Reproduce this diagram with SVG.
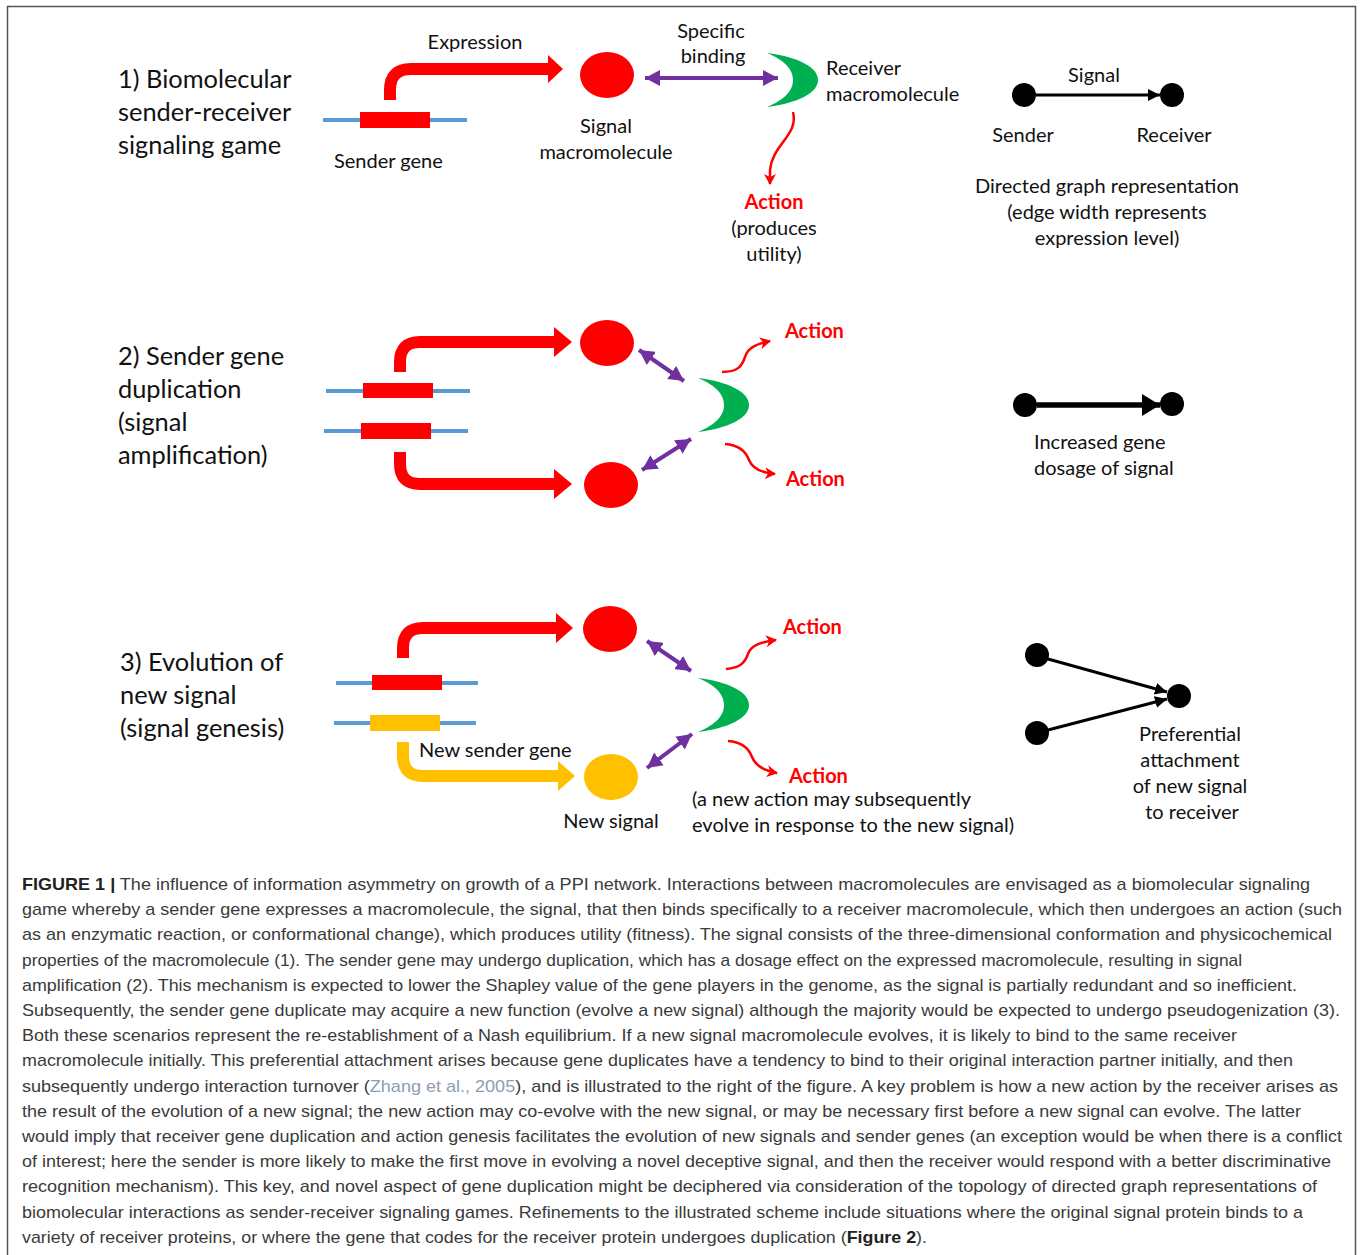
<svg xmlns="http://www.w3.org/2000/svg" width="1360" height="1255" viewBox="0 0 1360 1255">
<defs>
<style>
.lbl{font-family:Lato,"Open Sans","DejaVu Sans",sans-serif;font-size:20px;fill:#111}
.ttl{font-family:Lato,"Open Sans","DejaVu Sans",sans-serif;font-size:25.4px;fill:#111}
.act{font-family:Lato,"Open Sans","DejaVu Sans",sans-serif;font-size:20px;font-weight:bold;fill:#FF0000}
.cap{font-family:"Liberation Sans",Arial,sans-serif;font-size:17px;fill:#3a3a3a}
.b{font-weight:bold;fill:#222}
.ref{fill:#8d9db3}
.gene{stroke:#5B9BD5;stroke-width:4}
.red{fill:#FF0000}
.yel{fill:#FFC000}
.grn{fill:#00B050}
.exp{fill:none;stroke:#FF0000;stroke-width:12}
.expy{fill:none;stroke:#FFC000;stroke-width:12}
.bind{fill:none;stroke:#7030A0;stroke-width:4;marker-start:url(#pu);marker-end:url(#pu)}
.wave{fill:none;stroke:#FF0000;stroke-width:2.5;marker-end:url(#rh)}
.edge{fill:none;stroke:#000;stroke-width:3}
.edge.thick{stroke-width:5.5}
</style>
<marker id="pu" markerUnits="userSpaceOnUse" markerWidth="16" markerHeight="16" refX="15" refY="8" orient="auto-start-reverse"><path d="M0,0 L15,8 L0,16 z" fill="#7030A0"/></marker>
<marker id="rh" markerUnits="userSpaceOnUse" markerWidth="12" markerHeight="12" refX="10" refY="6" orient="auto"><path d="M0,0 L11,6 L0,12 L3,6 z" fill="#FF0000"/></marker>
<marker id="bk" markerUnits="userSpaceOnUse" markerWidth="14" markerHeight="14" refX="12" refY="6" orient="auto"><path d="M0,0 L12,6 L0,12 z" fill="#000"/></marker>
<marker id="bk2" markerUnits="userSpaceOnUse" markerWidth="20" markerHeight="24" refX="18" refY="11" orient="auto"><path d="M0,0 L18,11 L0,22 z" fill="#000"/></marker>
<path id="cres" d="M0,0 C31,4 51,14 51,27 C51,40 31,50 0,54 C19,46 26,37 26,27 C26,17 19,8 0,0 Z"/>
</defs>
<rect width="1360" height="1255" fill="#fff"/>
<path d="M7.5,1260 V6.5 H1355.5 V1260" fill="none" stroke="#555" stroke-width="1.5"/>

<!-- Panel 1 -->
<g id="title1"><text class="ttl" x="118" y="88">1) Biomolecular</text><text class="ttl" x="118" y="121">sender-receiver</text><text class="ttl" x="118" y="154">signaling game</text></g>
<g id="sender-gene-1"><line class="gene" x1="323" y1="120" x2="467" y2="120"/><rect class="red" x="360" y="112" width="70" height="16"/><text class="lbl" x="334" y="168">Sender gene</text></g>
<g id="signal-1"><ellipse class="red" cx="607" cy="75" rx="27" ry="23"/><text class="lbl" x="606" y="133" text-anchor="middle">Signal</text><text class="lbl" x="606" y="159" text-anchor="middle">macromolecule</text></g>
<g id="receiver-1"><use href="#cres" class="grn" transform="translate(767,53)"/><text class="lbl" x="826" y="75">Receiver</text><text class="lbl" x="826" y="101">macromolecule</text></g>
<g id="action-1"><text class="act" x="774" y="209" text-anchor="middle">Action</text><text class="lbl" x="774" y="235" text-anchor="middle">(produces</text><text class="lbl" x="774" y="261" text-anchor="middle">utility)</text></g>
<g id="labels-1"><text class="lbl" x="475" y="49" text-anchor="middle">Expression</text><text class="lbl" x="711" y="38" text-anchor="middle">Specific</text><text class="lbl" x="713" y="63" text-anchor="middle">binding</text></g>
<g id="graph-1"><circle cx="1024" cy="95" r="12"/><circle cx="1172" cy="95" r="12"/><text class="lbl" x="1094" y="82" text-anchor="middle">Signal</text><text class="lbl" x="1023" y="142" text-anchor="middle">Sender</text><text class="lbl" x="1174" y="142" text-anchor="middle">Receiver</text><text class="lbl" x="1107" y="193" text-anchor="middle">Directed graph representation</text><text class="lbl" x="1107" y="219" text-anchor="middle">(edge width represents</text><text class="lbl" x="1107" y="245" text-anchor="middle">expression level)</text></g>

<!-- Panel 2 -->
<g id="title2"><text class="ttl" x="118" y="365">2) Sender gene</text><text class="ttl" x="118" y="398">duplication</text><text class="ttl" x="118" y="431">(signal</text><text class="ttl" x="118" y="464">amplification)</text></g>
<g id="sender-gene-2a"><line class="gene" x1="326" y1="391" x2="470" y2="391"/><rect class="red" x="363" y="383" width="70" height="15"/></g>
<g id="sender-gene-2b"><line class="gene" x1="324" y1="431" x2="468" y2="431"/><rect class="red" x="361" y="423" width="70" height="16"/></g>
<g id="signal-2a"><ellipse class="red" cx="607" cy="343" rx="27" ry="23"/></g>
<g id="signal-2b"><ellipse class="red" cx="611" cy="485" rx="27" ry="23"/></g>
<g id="receiver-2"><use href="#cres" class="grn" transform="translate(698,378)"/></g>
<g id="action-2a"><text class="act" x="785" y="338">Action</text></g>
<g id="action-2b"><text class="act" x="786" y="486">Action</text></g>
<g id="graph-2"><circle cx="1025" cy="405" r="12"/><circle cx="1172" cy="404" r="12"/><text class="lbl" x="1034" y="449">Increased gene</text><text class="lbl" x="1034" y="475">dosage of signal</text></g>

<!-- Panel 3 -->
<g id="title3"><text class="ttl" x="120" y="671">3) Evolution of</text><text class="ttl" x="120" y="704">new signal</text><text class="ttl" x="120" y="737">(signal genesis)</text></g>
<g id="sender-gene-3"><line class="gene" x1="336" y1="683" x2="478" y2="683"/><rect class="red" x="372" y="675" width="70" height="15"/></g>
<g id="new-sender-gene"><line class="gene" x1="334" y1="723" x2="476" y2="723"/><rect class="yel" x="370" y="715" width="70" height="16"/><text class="lbl" x="419" y="757">New sender gene</text></g>
<g id="signal-3"><ellipse class="red" cx="610" cy="629" rx="27" ry="23"/></g>
<g id="new-signal"><ellipse class="yel" cx="611" cy="777" rx="27" ry="23"/><text class="lbl" x="611" y="828" text-anchor="middle">New signal</text></g>
<g id="receiver-3"><use href="#cres" class="grn" transform="translate(698,678)"/></g>
<g id="action-3a"><text class="act" x="783" y="634">Action</text></g>
<g id="action-3b"><text class="act" x="789" y="783">Action</text><text class="lbl" x="692" y="806">(a new action may subsequently</text><text class="lbl" x="692" y="832">evolve in response to the new signal)</text></g>
<g id="graph-3"><circle cx="1037" cy="655" r="12"/><circle cx="1037" cy="733" r="12"/><circle cx="1179" cy="696" r="12"/><text class="lbl" x="1190" y="741" text-anchor="middle">Preferential</text><text class="lbl" x="1190" y="767" text-anchor="middle">attachment</text><text class="lbl" x="1190" y="793" text-anchor="middle">of new signal</text><text class="lbl" x="1192" y="819" text-anchor="middle">to receiver</text></g>

<!-- Connectors -->
<g id="connectors">
<path class="exp" d="M390,100 V90 Q390,69 411,69 H550"/><polygon class="red" points="548,55 563,69 548,83"/>
<path class="bind" d="M645,78 H778"/>
<path class="wave" d="M793,112 C799,135 772,145 770,170 L770,184"/>
<path class="edge" d="M1036,95 H1160" marker-end="url(#bk)"/>

<path class="exp" d="M400,372 V362 Q400,342 420,342 H556"/><polygon class="red" points="554,327 572,342 554,357"/>
<path class="exp" d="M400,452 V464 Q400,484 420,484 H556"/><polygon class="red" points="554,469 572,484 554,499"/>
<path class="bind" d="M639,350 L684,381"/>
<path class="bind" d="M642,470 L691,439"/>
<path class="wave" d="M722,372 C738,372 742,366 745,357 C748,347 757,344 770,341"/>
<path class="wave" d="M725,444 C740,445 746,452 749,460 C753,470 763,473 775,474"/>
<path class="edge thick" d="M1037,405 H1160" marker-end="url(#bk2)"/>

<path class="exp" d="M403,658 V648 Q403,628 423,628 H557"/><polygon class="red" points="556,613 573,628 556,643"/>
<path class="expy" d="M403,742 V756 Q403,776 423,776 H559"/><polygon class="yel" points="558,761 575,776 558,791"/>
<path class="bind" d="M647,641 L691,671"/>
<path class="bind" d="M647,768 L692,734"/>
<path class="wave" d="M726,669 C741,668 745,662 748,654 C751,645 761,642 776,640"/>
<path class="wave" d="M728,741 C743,742 749,749 752,757 C756,767 766,771 777,773"/>
<path class="edge" d="M1048,659 L1167,692" marker-end="url(#bk)"/>
<path class="edge" d="M1048,730 L1167,699" marker-end="url(#bk)"/>
</g>

<!-- Caption -->
<g id="caption" class="cap">
<text x="22" y="890" textLength="1288" lengthAdjust="spacingAndGlyphs"><tspan class="b">FIGURE 1 |</tspan> The influence of information asymmetry on growth of a PPI network. Interactions between macromolecules are envisaged as a biomolecular signaling</text>
<text x="22" y="915.2" textLength="1320" lengthAdjust="spacingAndGlyphs">game whereby a sender gene expresses a macromolecule, the signal, that then binds specifically to a receiver macromolecule, which then undergoes an action (such</text>
<text x="22" y="940.4" textLength="1310" lengthAdjust="spacingAndGlyphs">as an enzymatic reaction, or conformational change), which produces utility (fitness). The signal consists of the three-dimensional conformation and physicochemical</text>
<text x="22" y="965.6" textLength="1220" lengthAdjust="spacingAndGlyphs">properties of the macromolecule (1). The sender gene may undergo duplication, which has a dosage effect on the expressed macromolecule, resulting in signal</text>
<text x="22" y="990.8" textLength="1275" lengthAdjust="spacingAndGlyphs">amplification (2). This mechanism is expected to lower the Shapley value of the gene players in the genome, as the signal is partially redundant and so inefficient.</text>
<text x="22" y="1016" textLength="1318" lengthAdjust="spacingAndGlyphs">Subsequently, the sender gene duplicate may acquire a new function (evolve a new signal) although the majority would be expected to undergo pseudogenization (3).</text>
<text x="22" y="1041.2" textLength="1215" lengthAdjust="spacingAndGlyphs">Both these scenarios represent the re-establishment of a Nash equilibrium. If a new signal macromolecule evolves, it is likely to bind to the same receiver</text>
<text x="22" y="1066.4" textLength="1271" lengthAdjust="spacingAndGlyphs">macromolecule initially. This preferential attachment arises because gene duplicates have a tendency to bind to their original interaction partner initially, and then</text>
<text x="22" y="1091.6" textLength="1316" lengthAdjust="spacingAndGlyphs">subsequently undergo interaction turnover (<tspan class="ref">Zhang et al., 2005</tspan>), and is illustrated to the right of the figure. A key problem is how a new action by the receiver arises as</text>
<text x="22" y="1116.8" textLength="1279" lengthAdjust="spacingAndGlyphs">the result of the evolution of a new signal; the new action may co-evolve with the new signal, or may be necessary first before a new signal can evolve. The latter</text>
<text x="22" y="1142" textLength="1320" lengthAdjust="spacingAndGlyphs">would imply that receiver gene duplication and action genesis facilitates the evolution of new signals and sender genes (an exception would be when there is a conflict</text>
<text x="22" y="1167.2" textLength="1309" lengthAdjust="spacingAndGlyphs">of interest; here the sender is more likely to make the first move in evolving a novel deceptive signal, and then the receiver would respond with a better discriminative</text>
<text x="22" y="1192.4" textLength="1295" lengthAdjust="spacingAndGlyphs">recognition mechanism). This key, and novel aspect of gene duplication might be deciphered via consideration of the topology of directed graph representations of</text>
<text x="22" y="1217.6" textLength="1281" lengthAdjust="spacingAndGlyphs">biomolecular interactions as sender-receiver signaling games. Refinements to the illustrated scheme include situations where the original signal protein binds to a</text>
<text x="22" y="1242.8" textLength="905" lengthAdjust="spacingAndGlyphs">variety of receiver proteins, or where the gene that codes for the receiver protein undergoes duplication (<tspan class="b">Figure 2</tspan>).</text>
</g>
</svg>
